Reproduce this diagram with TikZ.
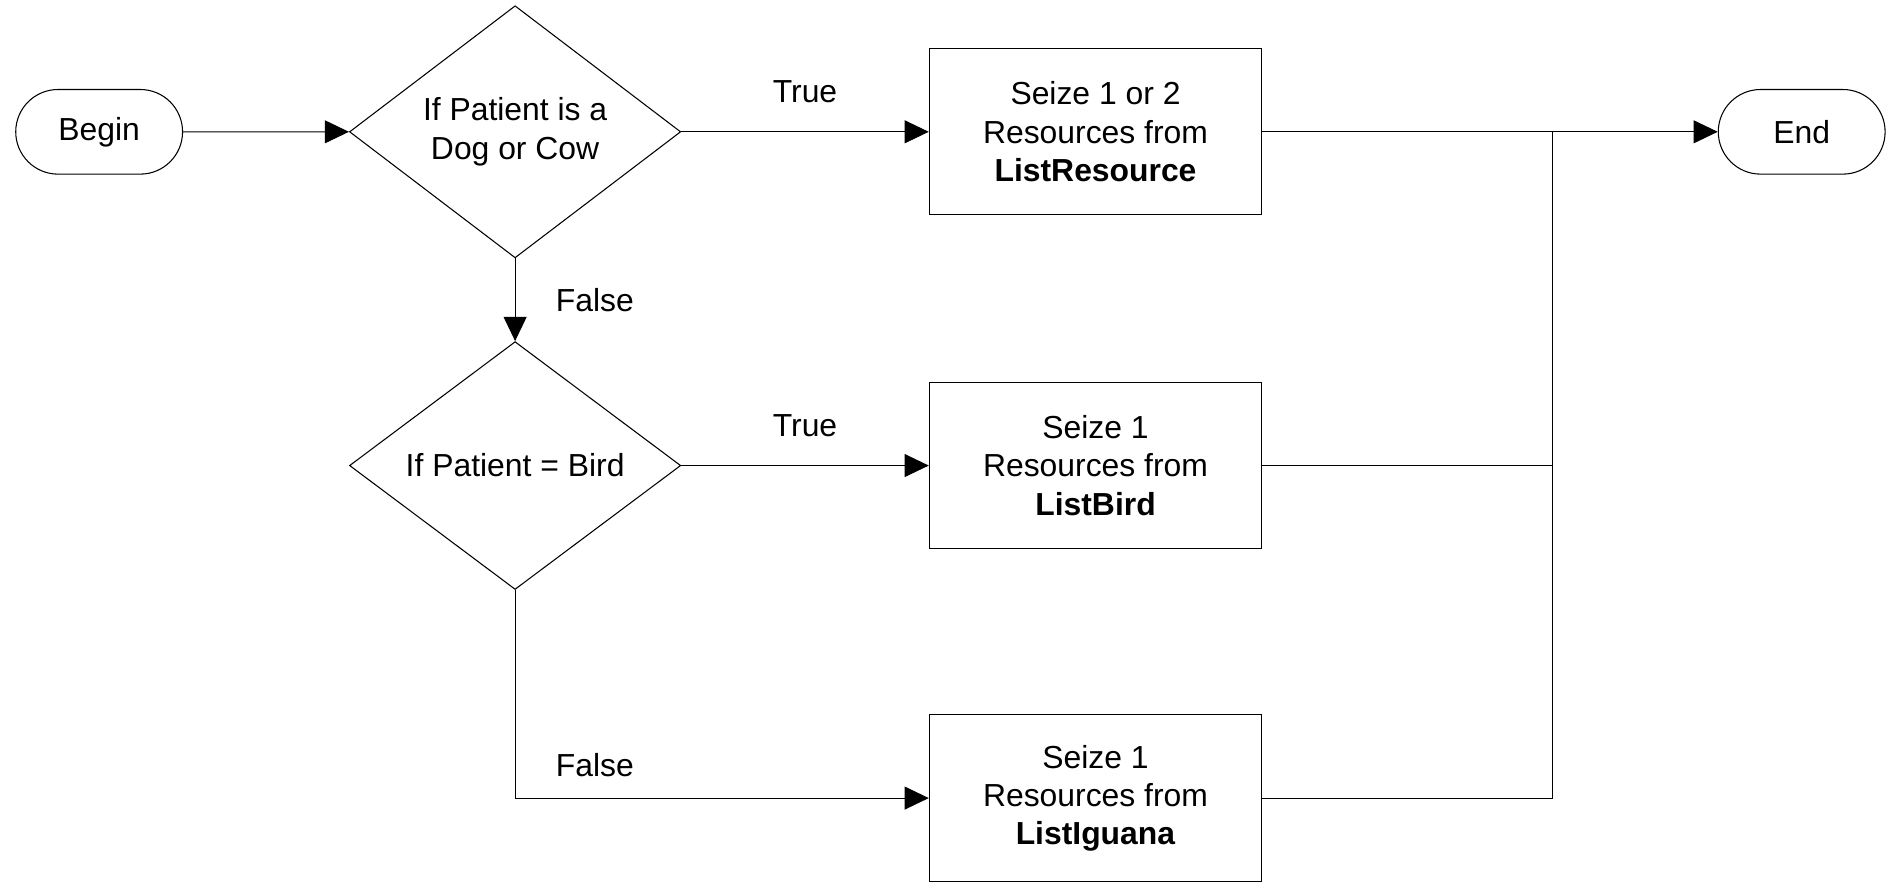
\documentclass[tikz,border=0pt]{standalone}
\usepackage{fontspec}
\setmainfont{Liberation Sans}
\usetikzlibrary{shapes.geometric,arrows.meta}
\begin{document}
\begin{tikzpicture}[x=0.02cm,y=-0.02cm,
  every node/.style={font=\fontsize{15}{18}\selectfont},
  term/.style={draw,rounded rectangle,minimum width=2.76cm,minimum height=1.4cm,inner sep=0pt},
  dec/.style={draw,diamond,minimum width=5.48cm,minimum height=4.1cm,inner sep=0pt,align=center},
  box/.style={draw,minimum width=5.5cm,minimum height=2.75cm,inner sep=0pt,align=center},
  arr/.style={-{Triangle[length=0.4cm,width=0.38cm]}},
  line width=0.5pt]
\useasboundingbox (0,0) rectangle (1568,735);
\usetikzlibrary{shapes.misc}
\node[term] (begin) at (82,109) {Begin};
\node[dec] (d1) at (426,109) {If Patient is a\\Dog or Cow};
\node[dec] (d2) at (426,385) {If Patient = Bird};
\node[box] (b1) at (906,109) {Seize 1 or 2\\Resources from\\\textbf{ListResource}};
\node[box] (b2) at (906,385) {Seize 1\\Resources from\\\textbf{ListBird}};
\node[box] (b3) at (906,660) {Seize 1\\Resources from\\\textbf{ListIguana}};
\node[term] (end) at (1490,109) {End};
\coordinate (j) at (1284,109);
\draw[arr] (begin) -- (d1);
\draw[arr] (d1) -- node[above=0.35cm]{True} (b1);
\draw[arr] (d1) -- node[right=0.55cm]{False} (d2);
\draw[arr] (d2) -- node[above=0.35cm]{True} (b2);
\draw[arr] (d2.south) |- node[pos=0.42,right=0.55cm]{False} (b3);
\draw[arr] (b1) -- (end);
\draw (b2.east) -| (j);
\draw (b3.east) -| (j);
\end{tikzpicture}
\end{document}
